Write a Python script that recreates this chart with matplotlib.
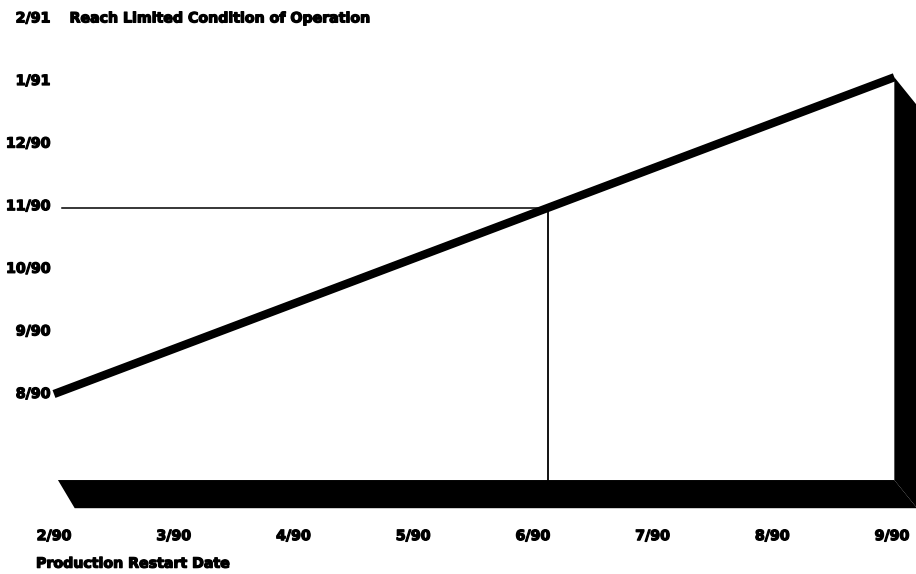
import matplotlib
matplotlib.use("Agg")
import matplotlib.pyplot as plt
import matplotlib.patheffects as pe
from matplotlib.patches import Polygon

# x: months since 2/90 (production restart), y: months since 8/90 (limited condition)
restart_labels = ["2/90", "3/90", "4/90", "5/90", "6/90", "7/90", "8/90", "9/90"]
lco_labels = ["8/90", "9/90", "10/90", "11/90", "12/90", "1/91", "2/91"]

line_restart = [0.0, 7.02]
line_lco = [0.0, 5.06]

marker_restart = 4.13
marker_lco = 2.97

plt.rcParams['font.family'] = ['DejaVu Sans']

fig = plt.figure(figsize=(9.16, 5.74), dpi=100)
ax = fig.add_axes([0, 0, 1, 1])
ax.set_xlim(-0.451, 7.201)
ax.set_ylim(-2.875, 6.294)
ax.axis("off")

fs = 10.2
heavy = dict(fontsize=fs, fontweight="bold",
             path_effects=[pe.withStroke(linewidth=0.9, foreground="black")])

# y tick labels (top one carries the axis title)
for i, lab in enumerate(lco_labels):
    ax.text(-0.03, i, lab, ha="right", va="center", **heavy)
ax.text(0.13, len(lco_labels) - 1, "Reach Limited Condition of Operation",
        ha="left", va="center", **heavy)

# x tick labels
for i, lab in enumerate(restart_labels):
    ax.text(i, -2.27, lab, ha="center", va="center", **heavy)
ax.text(-0.15, -2.71, "Production Restart Date", ha="left", va="center", **heavy)

# 3D floor and right wall
dxl, dxr, dy = 0.14, 0.19, -0.45
yb = -1.374
x0, xr = 0.033, line_restart[-1]
ytop = line_lco[-1]
floor = Polygon([(x0, yb), (xr, yb), (xr + dxr, yb + dy), (x0 + dxl, yb + dy)],
                closed=True, color="black", lw=0)
wall = Polygon([(xr, yb), (xr, ytop), (xr + dxr, ytop + dy), (xr + dxr, yb + dy)],
               closed=True, color="black", lw=0)
ax.add_patch(floor)
ax.add_patch(wall)

# reference lines
ax.plot([0.07, marker_restart], [marker_lco, marker_lco], color="black", lw=1.1)
ax.plot([marker_restart, marker_restart], [marker_lco, yb], color="black", lw=1.3)

# main line
ax.plot(line_restart, line_lco, color="black", lw=6.0, solid_capstyle="butt")

fig.savefig("out.png", dpi=100)
